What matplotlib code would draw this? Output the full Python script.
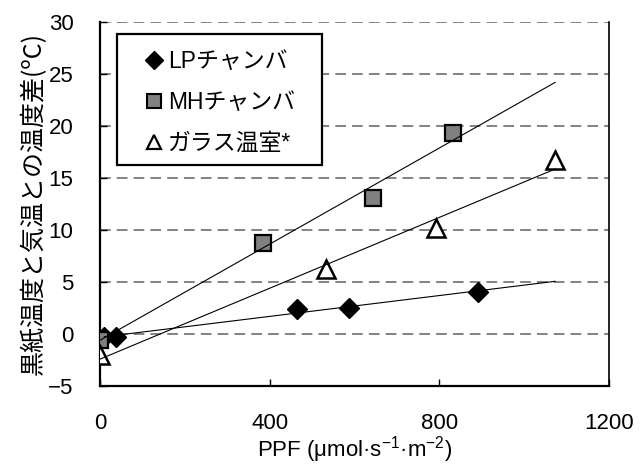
import numpy as np
import matplotlib
matplotlib.use("Agg")
import matplotlib.pyplot as plt
from matplotlib.lines import Line2D
from matplotlib.patches import Rectangle

plt.rcParams['font.family'] = ['Liberation Sans', 'Noto Sans CJK JP', 'DejaVu Sans']
plt.rcParams['mathtext.fontset'] = 'custom'
plt.rcParams['mathtext.rm'] = 'Liberation Sans'

# Data
lp_x = [10, 38, 464, 588, 891]
lp_y = [-0.3, -0.3, 2.4, 2.5, 4.0]
mh_x = [0, 385, 643, 832]
mh_y = [-0.6, 8.7, 13.1, 19.3]
gl_x = [0, 532, 792, 1073]
gl_y = [-2.0, 6.2, 10.2, 16.7]

labels = ['LPチャンバ', 'MHチャンバ', 'ガラス温室*']
x_ticks = [0, 400, 800, 1200]
y_ticks = [-5, 0, 5, 10, 15, 20, 25, 30]

fig = plt.figure(figsize=(6.4, 4.73), dpi=100)
ax = fig.add_axes([100/640, 1-385.7/473, (609-100)/640, (385.7-22)/473])

ax.set_xlim(0, 1200)
ax.set_ylim(-5, 30)

for y in y_ticks[1:]:
    ax.axhline(y, color='#606060', lw=1.1, ls=(0, (7, 4)), zorder=1)

# markers
ax.plot(lp_x, lp_y, ls='none', marker='D', ms=10.5, mfc='black', mec='black', zorder=3)
ax.plot(mh_x, mh_y, ls='none', marker='s', ms=12, mfc='#808080', mec='black', mew=1.6, zorder=3)
ax.plot(gl_x, gl_y, ls='none', marker='^', ms=12.5, mfc='white', mec='black', mew=1.8, zorder=3)

# linear trendlines
xmax = max(max(lp_x), max(mh_x), max(gl_x))
for xs, ys in [(lp_x, lp_y), (mh_x, mh_y), (gl_x, gl_y)]:
    k, b = np.polyfit(xs, ys, 1)
    xx = np.array([min(xs), xmax])
    ax.plot(xx, k*xx + b, color='black', lw=0.8, zorder=4)

ax.set_xticks(x_ticks)
ax.set_yticks(y_ticks)
ax.tick_params(direction='in', length=5, width=1, labelsize=16)
ax.tick_params(axis='x', pad=20)
ax.tick_params(axis='y', pad=19)

ax.spines['top'].set_visible(False)
ax.spines['left'].set_linewidth(1.6)
ax.spines['bottom'].set_linewidth(1.6)
ax.spines['right'].set_linewidth(1.2)

ax.set_xlabel('PPF (μmol·s$^{-1}$·m$^{-2}$)', fontsize=16, labelpad=0)
ax.set_ylabel('黒紙温度と気温との温度差(ºC)', fontsize=18,
              family=['Noto Sans CJK JP', 'Liberation Sans', 'DejaVu Sans'], labelpad=1)

# legend box
box = Rectangle((117/640, 1-165/473), (322-117)/640, (165-34)/473,
                transform=fig.transFigure, facecolor='white',
                edgecolor='black', lw=1.6, zorder=5, clip_on=False)
ax.add_artist(box)

handles = [
    Line2D([], [], ls='none', marker='D', ms=9, mfc='black', mec='black'),
    Line2D([], [], ls='none', marker='s', ms=10, mfc='#808080', mec='black', mew=1.5),
    Line2D([], [], ls='none', marker='^', ms=10, mfc='white', mec='black', mew=1.6),
]
leg = ax.legend(handles, labels, loc='upper left', bbox_to_anchor=(144/640, 1-50/473),
                bbox_transform=fig.transFigure, frameon=False,
                borderpad=0, labelspacing=0.78,
                handlelength=0.9, handletextpad=0.15, borderaxespad=0,
                prop={'family': ['Liberation Sans', 'Noto Sans CJK JP'], 'size': 16.5})
leg.set_zorder(6)

fig.savefig('out.png', dpi=100)
